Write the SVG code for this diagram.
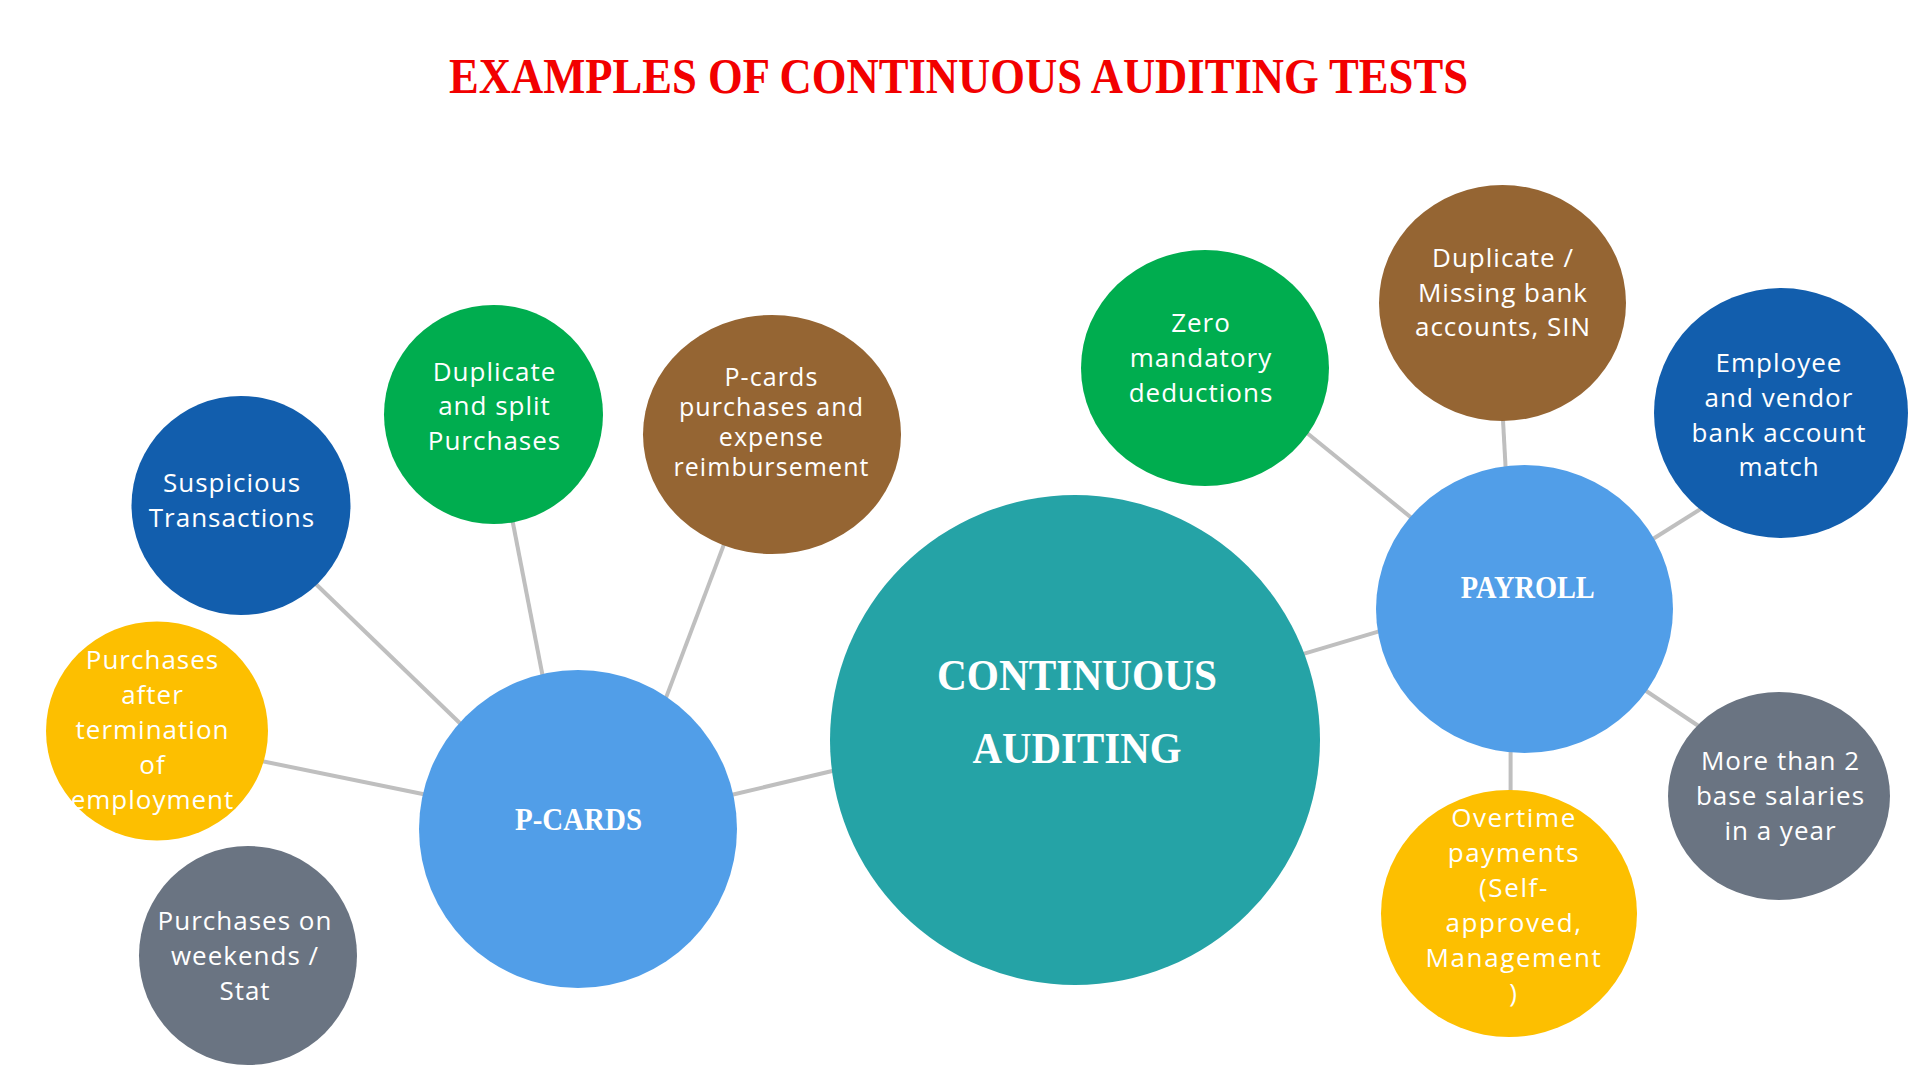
<svg xmlns="http://www.w3.org/2000/svg" width="1920" height="1080" viewBox="0 0 1920 1080">
<style>
.bg{fill:#ffffff}
.conn line{stroke:#BFBFBF;stroke-width:4;fill:none}
.t{font-family:"Open Sans","Noto Sans","Liberation Sans",sans-serif;font-size:26px;letter-spacing:1px;fill:#ffffff;text-anchor:middle}
.tb{font-size:25px;letter-spacing:1.1px}
.to{letter-spacing:1.6px}
.h{font-family:"Liberation Serif","DejaVu Serif",serif;font-weight:bold;fill:#ffffff;text-anchor:middle}
.dblue{fill:#125EAD}
.green{fill:#00AD4F}
.brown{fill:#956533}
.yellow{fill:#FDBF00}
.gray{fill:#6A7482}
.lblue{fill:#519EE8}
.teal{fill:#25A3A6}
</style>
<rect class="bg" x="0" y="0" width="1920" height="1080"/>
<text id="title" x="958.5" y="93" font-family="'Liberation Serif','DejaVu Serif',serif" font-weight="bold" font-size="51" fill="#F20000" text-anchor="middle" textLength="1019" lengthAdjust="spacingAndGlyphs">EXAMPLES OF CONTINUOUS AUDITING TESTS</text>
<g id="connectors" class="conn">
<line x1="311.4" y1="579.7" x2="466.7" y2="729.7"/>
<line x1="511" y1="513" x2="544" y2="683"/>
<line x1="726.5" y1="537.6" x2="663.5" y2="704.4"/>
<line x1="255" y1="759.7" x2="432.4" y2="796"/>
<line x1="725.8" y1="796.3" x2="841.7" y2="768.7"/>
<line x1="1293.4" y1="656.9" x2="1386.6" y2="629.1"/>
<line x1="1301.8" y1="428.7" x2="1417.8" y2="523"/>
<line x1="1502.5" y1="411" x2="1506" y2="475"/>
<line x1="1707.5" y1="504.7" x2="1646.5" y2="543"/>
<line x1="1510.6" y1="743" x2="1510.6" y2="800"/>
<line x1="1638.7" y1="686" x2="1705.3" y2="730.5"/>
</g>
<g id="central">
<circle class="teal" cx="1075" cy="740" r="245"/>
<text class="h" x="1077" y="690" font-size="45" textLength="280" lengthAdjust="spacingAndGlyphs">CONTINUOUS</text>
<text class="h" x="1077" y="763" font-size="45" textLength="209" lengthAdjust="spacingAndGlyphs">AUDITING</text>
</g>
<g id="pcards">
<circle class="lblue" cx="578" cy="829" r="159"/>
<text class="h" x="578.5" y="830" font-size="32" textLength="127" lengthAdjust="spacingAndGlyphs">P-CARDS</text>
</g>
<g id="payroll">
<ellipse class="lblue" cx="1524.5" cy="609" rx="148.5" ry="144"/>
<text class="h" x="1527.8" y="598" font-size="32" textLength="134" lengthAdjust="spacingAndGlyphs">PAYROLL</text>
</g>
<g id="suspicious">
<circle class="dblue" cx="241" cy="505.5" r="109.5"/>
<text class="t" x="232" y="492">Suspicious</text>
<text class="t" x="232" y="527">Transactions</text>
</g>
<g id="dup-split">
<circle class="green" cx="493.5" cy="414.5" r="109.5"/>
<text class="t" x="494.5" y="381">Duplicate</text>
<text class="t" x="494.5" y="415">and split</text>
<text class="t" x="494.5" y="450">Purchases</text>
</g>
<g id="pcard-expense">
<ellipse class="brown" cx="772" cy="434.5" rx="129" ry="119.5"/>
<text class="t tb" x="771.5" y="386">P-cards</text>
<text class="t tb" x="771.5" y="416">purchases and</text>
<text class="t tb" x="771.5" y="446">expense</text>
<text class="t tb" x="771.5" y="476">reimbursement</text>
</g>
<g id="after-termination">
<ellipse class="yellow" cx="157" cy="731" rx="111" ry="109.5"/>
<text class="t" x="152.5" y="669">Purchases</text>
<text class="t" x="152.5" y="704">after</text>
<text class="t" x="152.5" y="739">termination</text>
<text class="t" x="152.5" y="774">of</text>
<text class="t" x="152.5" y="809">employment</text>
</g>
<g id="weekends">
<ellipse class="gray" cx="248" cy="955.5" rx="109" ry="109.5"/>
<text class="t" x="245" y="930">Purchases on</text>
<text class="t" x="245" y="965">weekends /</text>
<text class="t" x="245" y="1000">Stat</text>
</g>
<g id="zero-deductions">
<ellipse class="green" cx="1205" cy="368" rx="124" ry="118"/>
<text class="t" x="1201" y="332">Zero</text>
<text class="t" x="1201" y="367">mandatory</text>
<text class="t" x="1201" y="402">deductions</text>
</g>
<g id="dup-missing-bank">
<ellipse class="brown" cx="1502.5" cy="303" rx="123.5" ry="118"/>
<text class="t" x="1503" y="267">Duplicate /</text>
<text class="t" x="1503" y="302">Missing bank</text>
<text class="t" x="1503" y="336">accounts, SIN</text>
</g>
<g id="employee-vendor">
<ellipse class="dblue" cx="1781" cy="413" rx="127" ry="125"/>
<text class="t" x="1779" y="372">Employee</text>
<text class="t" x="1779" y="407">and vendor</text>
<text class="t" x="1779" y="442">bank account</text>
<text class="t" x="1779" y="476">match</text>
</g>
<g id="overtime">
<ellipse class="yellow" cx="1509" cy="913.5" rx="128" ry="123.5"/>
<text class="t to" x="1514" y="827">Overtime</text>
<text class="t to" x="1514" y="862">payments</text>
<text class="t to" x="1514" y="897">(Self-</text>
<text class="t to" x="1514" y="932">approved,</text>
<text class="t to" x="1514" y="967">Management</text>
<text class="t to" x="1514" y="1002">)</text>
</g>
<g id="two-salaries">
<ellipse class="gray" cx="1779" cy="796" rx="111" ry="104"/>
<text class="t" x="1780.5" y="770">More than 2</text>
<text class="t" x="1780.5" y="805">base salaries</text>
<text class="t" x="1780.5" y="840">in a year</text>
</g>
</svg>
